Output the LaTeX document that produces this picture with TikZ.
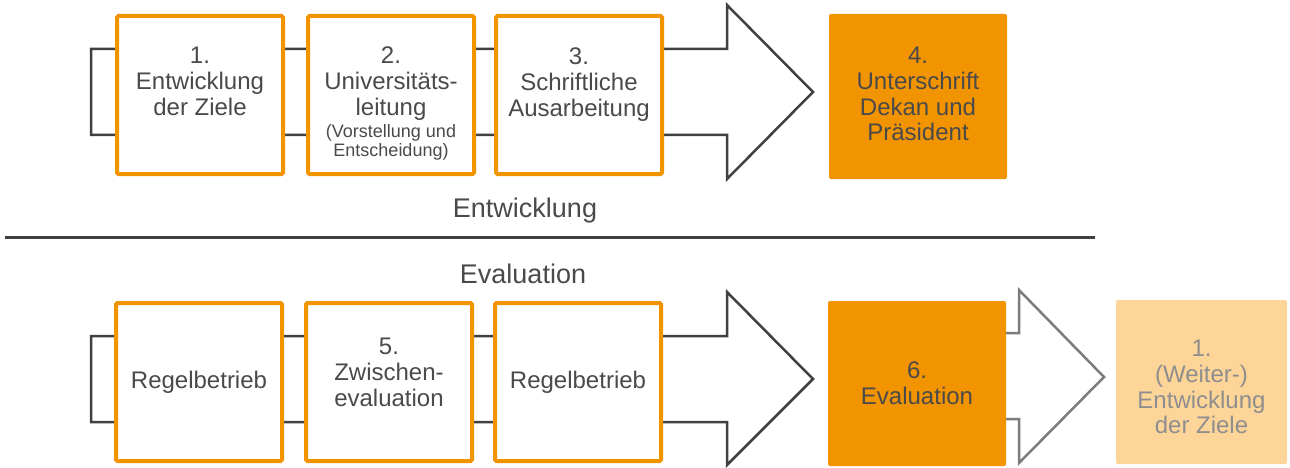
\documentclass[tikz,border=0pt]{standalone}
\usepackage{fontspec}
\setmainfont{Liberation Sans}
\usetikzlibrary{positioning}
\definecolor{uniorange}{HTML}{F29400}
\definecolor{paleorange}{HTML}{FDD598}
\definecolor{darktext}{HTML}{4A4A4A}
\definecolor{arrowgrey}{HTML}{404040}
\definecolor{softgrey}{HTML}{7C7C7C}
\definecolor{fadetext}{HTML}{8E8E8E}
\newcommand{\kleintext}{\fontsize{18}{19}\selectfont}
\tikzstyle{phase box}=[
    draw = uniorange,
    line width = 4pt,
    fill = white,
    minimum width = 166pt,
    minimum height = 158pt,
    rounded corners = 1.5pt,
    inner sep = 0pt
]
\tikzstyle{result box}=[
    fill = uniorange,
    minimum width = 178pt,
    minimum height = 165pt,
    rounded corners = 2pt,
    inner sep = 0pt
]
\tikzstyle{big arrow}=[
    draw = arrowgrey,
    line width = 2.5pt,
    fill = white,
    line join = miter
]

\begin{document}
\begin{tikzpicture}[x=1pt, y=-1pt,
    txt/.style = {font=\fontsize{24}{25.8}\selectfont, text=darktext, align=center, inner sep=0pt},
    head/.style = {font=\fontsize{27}{30}\selectfont, text=darktext, inner sep=0pt, anchor=base}]
    \useasboundingbox (0,0) rectangle (1290,468);

    % Entwicklung
    \draw[big arrow] (91,49) -- (727,49) -- (727,5) -- (813,92) -- (727,179) -- (727,135) -- (91,135) -- cycle;
    \node[phase box] (b1) at (200,95) {};
    \node[phase box] (b2) [right = 21pt of b1] {};
    \node[phase box] (b3) [right = 18pt of b2] {};
    \node[result box] (b4) at (918,96.5) {};

    \node[txt] (t1) [below = 33pt of b1.north] {1.\\Entwicklung\\der Ziele};
    \node[txt] (t2) [below = 33pt of b2.north] {2.\\Universitäts-\\leitung\\[-3.8pt]{\kleintext(Vorstellung und}\\[-6.8pt]{\kleintext Entscheidung)}};
    \node[txt] (t3) [below = 34pt of b3.north] {3.\\Schriftliche\\Ausarbeitung};
    \node[txt] (t4) [below = 33pt of b4.north] {4.\\Unterschrift\\Dekan und\\Präsident};

    \node[head] (hdev) at (525,217) {Entwicklung};
    \draw[line width = 3pt, arrowgrey] (5,237) -- (1095,237);
    \node[head] (heval) at (523,283) {Evaluation};

    % Evaluation
    \draw[big arrow] (91,336) -- (727,336) -- (727,292) -- (813,379) -- (727,465) -- (727,422) -- (91,422) -- cycle;
    \draw[big arrow, draw = softgrey] (990,333) -- (1019,333) -- (1019,290) -- (1104,377) -- (1019,463) -- (1019,419) -- (990,419);
    \node[phase box, txt] (r1) at (199,382) {Regelbetrieb};
    \node[phase box] (b5) [right = 20pt of r1] {};
    \node[phase box, txt] (r2) [right = 19pt of b5] {Regelbetrieb};
    \node[result box] (b6) at (917,383.5) {};
    \node[result box, fill = paleorange, minimum width = 171pt, minimum height = 164pt] (b7) at (1201.5,382) {};

    \node[txt] (t5) [below = 37pt of b5.north] {5.\\Zwischen-\\evaluation};
    \node[txt] (t6) [below = 61pt of b6.north] {6.\\Evaluation};
    \node[txt, text = fadetext] (t7) [below = 40pt of b7.north] {1.\\(Weiter-)\\Entwicklung\\der Ziele};

\end{tikzpicture}
\end{document}
